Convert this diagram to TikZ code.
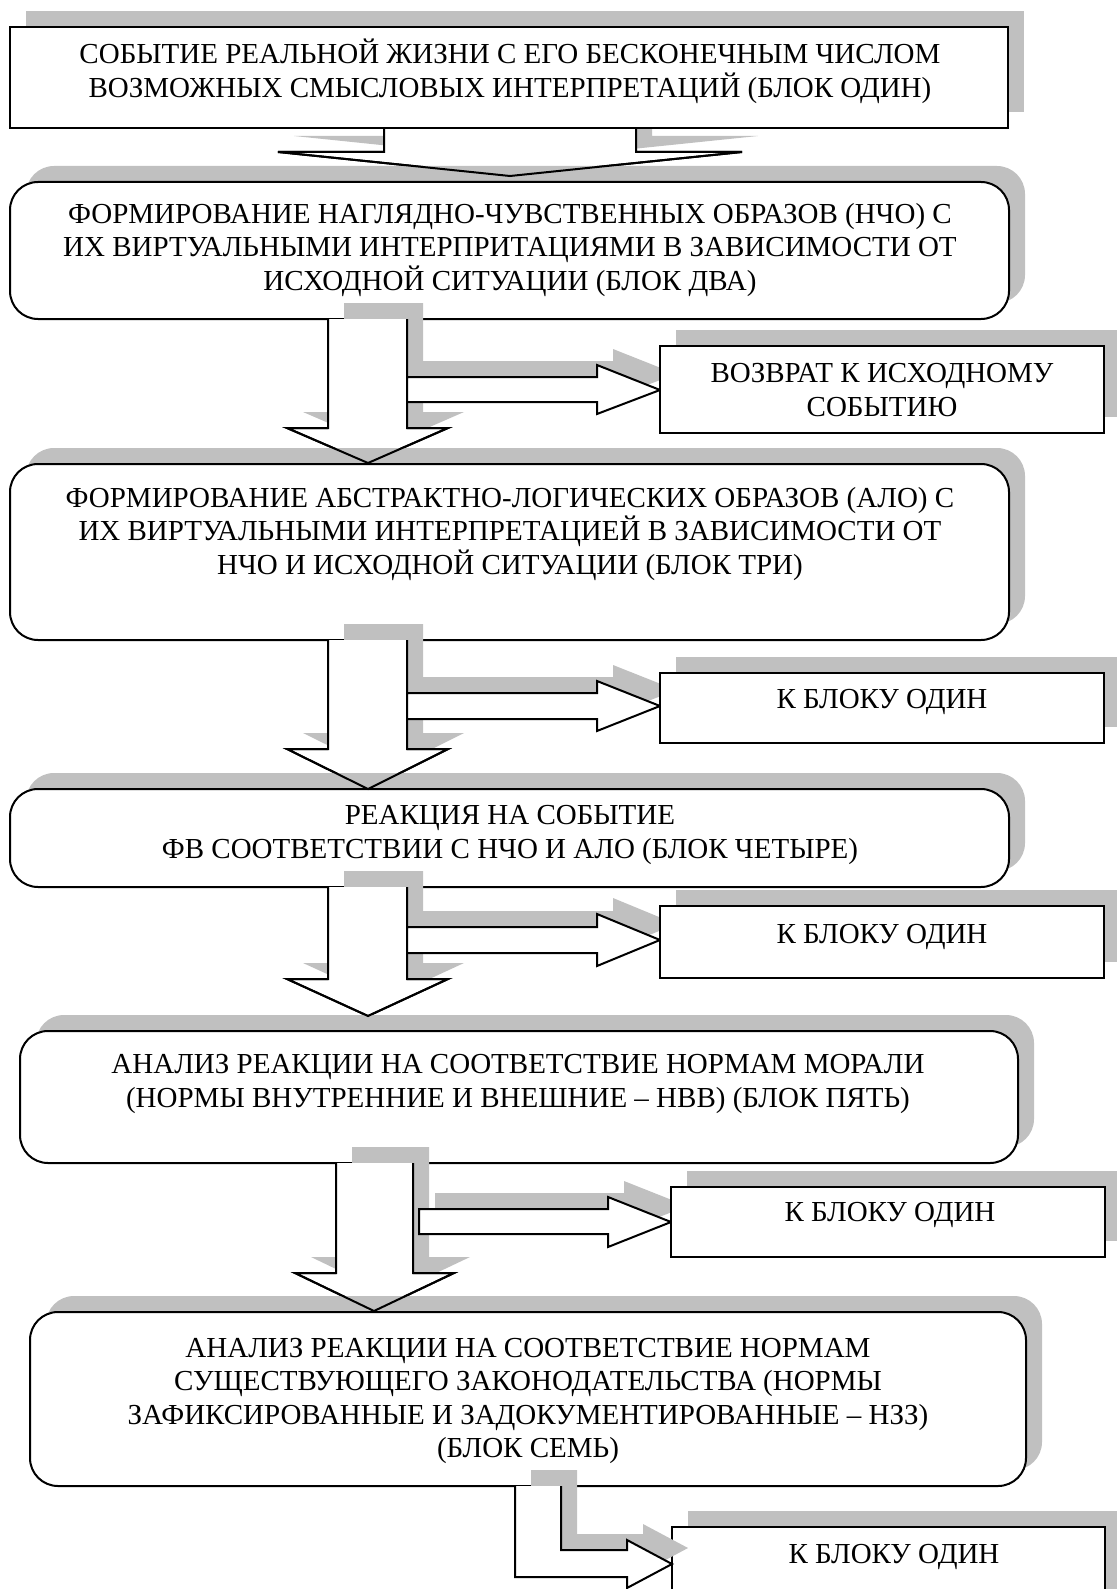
\documentclass[tikz,border=0pt]{standalone}
\usepackage{fontspec}
\setmainfont{Liberation Serif}
\usetikzlibrary{fit,shadows}
\definecolor{shadowgray}{RGB}{192,192,192}
% down block arrow: xl, xr, ytop, yhead, xhl, xhr, xtip, ytip
\newcommand\DnShadow[8]{\fill[shd,shift={(16,-16)}] (#1,#3) -- (#1,#4) -- (#5,#4) -- (#7,#8) -- (#6,#4) -- (#2,#4) -- (#2,#3) -- cycle;}
\newcommand\DnBody[8]{\fill[white] (#1,#3) -- (#1,#4) -- (#5,#4) -- (#7,#8) -- (#6,#4) -- (#2,#4) -- (#2,#3) -- cycle;
  \draw[shapeline] (#1,#3) -- (#1,#4) -- (#5,#4) -- (#7,#8) -- (#6,#4) -- (#2,#4) -- (#2,#3);}
\newcommand\DnHead[8]{\draw[shapeline] (#1,#4) -- (#5,#4) -- (#7,#8) -- (#6,#4) -- (#2,#4);}
% right block arrow: xl, xbase, xtip, ys1, ys2, yh1, yh2, ytip
\newcommand\RtShadow[8]{\fill[shd,shift={(16,-16)}] (#1,#4) -- (#2,#4) -- (#2,#6) -- (#3,#8) -- (#2,#7) -- (#2,#5) -- (#1,#5) -- cycle;}
\newcommand\RtBody[8]{\filldraw[shapeline,fill=white] (#1,#4) -- (#2,#4) -- (#2,#6) -- (#3,#8) -- (#2,#7) -- (#2,#5) -- (#1,#5) -- cycle;}
\begin{document}
\begin{tikzpicture}[x=0.5pt,y=-0.5pt,
  shd/.style={fill=shadowgray,draw=none},
  gshadow/.style={general shadow={fill=shadowgray,shadow xshift=8pt,shadow yshift=8pt}},
  sqbox/.style={draw=black,fill=white,line width=1pt,inner sep=0pt,gshadow},
  rbox/.style={sqbox,rounded corners=14pt},
  shapeline/.style={draw=black,line width=1pt,line join=miter},
  txt/.style={align=center,inner sep=0pt,font=\fontsize{14.5}{16.75}\selectfont},
]
\useasboundingbox (0,0) rectangle (1116,1589);

% Arrow 1 (lies beneath block 1)
\DnShadow{384}{636}{128}{152}{278}{742}{510}{176}
\DnBody{384}{636}{128}{152}{278}{742}{510}{176}

% Block 1
\node[sqbox,fit={(10,27) (1008,128)}] (b1) {};
\node[txt] (t1) at (510,71.5) {СОБЫТИЕ РЕАЛЬНОЙ ЖИЗНИ С ЕГО БЕСКОНЕЧНЫМ ЧИСЛОМ\\ВОЗМОЖНЫХ СМЫСЛОВЫХ ИНТЕРПРЕТАЦИЙ (БЛОК ОДИН)};

% Block 2
\node[rbox,fit={(10,182) (1009,319)}] (b2) {};
\DnHead{384}{636}{128}{152}{278}{742}{510}{176}
\node[txt] (t2) at (510,250) {ФОРМИРОВАНИЕ НАГЛЯДНО-ЧУВСТВЕННЫХ ОБРАЗОВ (НЧО) С\\ИХ ВИРТУАЛЬНЫМИ ИНТЕРПРИТАЦИЯМИ В ЗАВИСИМОСТИ ОТ\\ИСХОДНОЙ СИТУАЦИИ (БЛОК ДВА)};

% Arrows 2
\DnShadow{328}{407}{319}{428}{287}{448}{368}{463}
\RtShadow{407}{597}{660}{377}{402}{365}{414}{390}
\DnBody{328}{407}{319}{428}{287}{448}{368}{463}
\RtBody{407}{597}{660}{377}{402}{365}{414}{390}
\node[sqbox,fit={(660,346) (1104,433)}] (r1) {};
\node[txt] (tr1) at (882,390) {ВОЗВРАТ К ИСХОДНОМУ\\СОБЫТИЮ};

% Block 3
\node[rbox,fit={(10,464) (1009,640)}] (b3) {};
\DnHead{328}{407}{319}{428}{287}{448}{368}{463}
\node[txt] (t3) at (510,534) {ФОРМИРОВАНИЕ АБСТРАКТНО-ЛОГИЧЕСКИХ ОБРАЗОВ (АЛО) С\\ИХ ВИРТУАЛЬНЫМИ ИНТЕРПРЕТАЦИЕЙ В ЗАВИСИМОСТИ ОТ\\НЧО И ИСХОДНОЙ СИТУАЦИИ (БЛОК ТРИ)};

% Arrows 3
\DnShadow{328}{407}{640}{749}{287}{448}{368}{789}
\RtShadow{407}{597}{660}{693}{719}{681}{731}{706}
\DnBody{328}{407}{640}{749}{287}{448}{368}{789}
\RtBody{407}{597}{660}{693}{719}{681}{731}{706}
\node[sqbox,fit={(660,673) (1104,743)}] (r2) {};
\node[txt] (tr2) at (882,702) {К БЛОКУ ОДИН};

% Block 4
\node[rbox,fit={(10,789) (1009,887)}] (b4) {};
\DnHead{328}{407}{640}{749}{287}{448}{368}{789}
\node[txt] (t4) at (510,835) {РЕАКЦИЯ НА СОБЫТИЕ\\ФВ СООТВЕТСТВИИ С НЧО И АЛО (БЛОК ЧЕТЫРЕ)};

% Arrows 4
\DnShadow{328}{407}{887}{979}{287}{448}{368}{1016}
\RtShadow{407}{597}{660}{927}{953}{914}{966}{940}
\DnBody{328}{407}{887}{979}{287}{448}{368}{1016}
\RtBody{407}{597}{660}{927}{953}{914}{966}{940}
\node[sqbox,fit={(660,906) (1104,978)}] (r3) {};
\node[txt] (tr3) at (882,937) {К БЛОКУ ОДИН};

% Block 5
\node[rbox,fit={(20,1031) (1018,1163)}] (b5) {};
\DnHead{328}{407}{887}{979}{287}{448}{368}{1016}
\node[txt] (t5) at (518,1084) {АНАЛИЗ РЕАКЦИИ НА СООТВЕТСТВИЕ НОРМАМ МОРАЛИ\\(НОРМЫ ВНУТРЕННИЕ И ВНЕШНИЕ – НВВ) (БЛОК ПЯТЬ)};

% Arrows 5
\DnShadow{336}{413}{1163}{1273}{295}{454}{374}{1311}
\RtShadow{419}{608}{671}{1209}{1234}{1197}{1247}{1222}
\DnBody{336}{413}{1163}{1273}{295}{454}{374}{1311}
\RtBody{419}{608}{671}{1209}{1234}{1197}{1247}{1222}
\node[sqbox,fit={(671,1187) (1105,1257)}] (r4) {};
\node[txt] (tr4) at (890,1215) {К БЛОКУ ОДИН};

% Block 6
\node[rbox,fit={(30,1312) (1026,1486)}] (b6) {};
\DnHead{336}{413}{1163}{1273}{295}{454}{374}{1311}
\node[txt] (t6) at (528,1401) {АНАЛИЗ РЕАКЦИИ НА СООТВЕТСТВИЕ НОРМАМ\\СУЩЕСТВУЮЩЕГО ЗАКОНОДАТЕЛЬСТВА (НОРМЫ\\ЗАФИКСИРОВАННЫЕ И ЗАДОКУМЕНТИРОВАННЫЕ – НЗЗ)\\(БЛОК СЕМЬ)};

% Final box and bent arrow
\node[sqbox,fit={(672,1527) (1105,1630)}] (r5) {};
\node[txt] (tr5) at (894,1557) {К БЛОКУ ОДИН};
\fill[shd,shift={(16,-16)}] (515,1486) -- (561,1486) -- (561,1550) -- (627,1550) -- (627,1540) -- (672,1564) -- (627,1588) -- (627,1577) -- (515,1577) -- cycle;
\fill[white] (515,1486) -- (561,1486) -- (561,1550) -- (627,1550) -- (627,1540) -- (672,1564) -- (627,1588) -- (627,1577) -- (515,1577) -- cycle;
\draw[shapeline] (561,1486) -- (561,1550) -- (627,1550) -- (627,1540) -- (672,1564) -- (627,1588) -- (627,1577) -- (515,1577) -- (515,1486);
\end{tikzpicture}
\end{document}
